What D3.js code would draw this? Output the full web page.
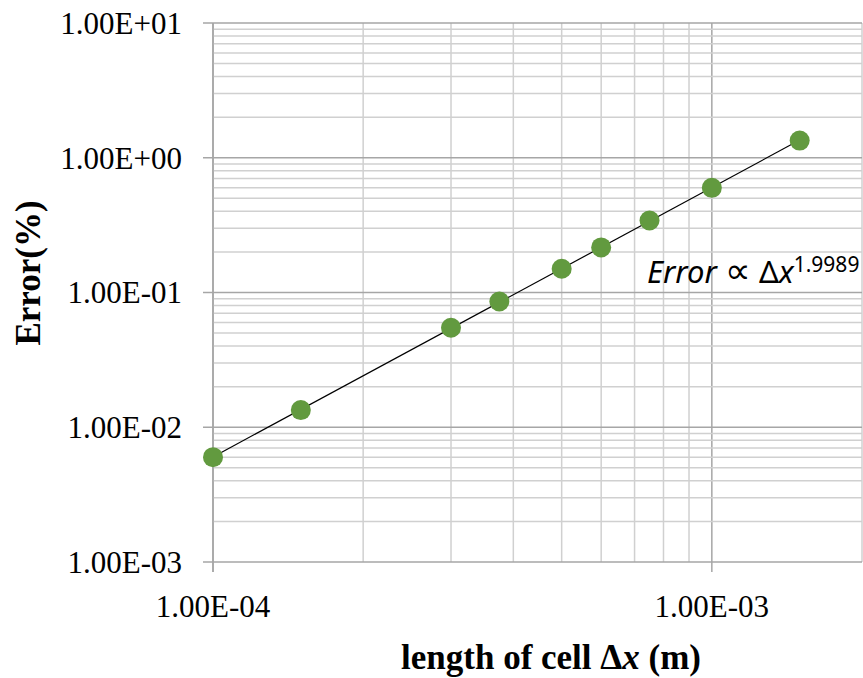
<!DOCTYPE html>
<html>
<head>
<meta charset="utf-8">
<script src="https://cdn.jsdelivr.net/npm/d3@7"></script>
<style>
  body { margin: 0; background: #fff; }
</style>
</head>
<body>
<script>
// cell length (m) and error (%)
const cellLength = [1.0e-4, 1.5e-4, 3.0e-4, 3.75e-4, 5.0e-4, 6.0e-4, 7.5e-4, 1.0e-3, 1.5e-3]
const errorPct   = [0.0060, 0.0134, 0.0548, 0.0858, 0.150, 0.216, 0.342, 0.598, 1.34]
const xTicks = [1e-4, 1e-3]
const yTicks = [1e-3, 1e-2, 1e-1, 1e0, 1e1]
const fitLabel = "1.9989"

const serif = "'Liberation Serif', 'DejaVu Serif', 'Times New Roman', serif"

let w = 863
let h = 678
let m = {left: 213, right: 1, top: 23, bottom: 116}

let svg = d3.select("body").append("svg")
            .attr("width", w)
            .attr("height", h)
            .attr("font-family", serif)

let x = d3.scaleLog().domain([1e-4, 2e-3]).range([m.left, w - m.right])
let y = d3.scaleLog().domain([1e-3, 1e1]).range([h - m.bottom, m.top])

let fmt = d => d3.format(".2e")(d).replace("e", "E").replace(/E([+-])(\d)$/, "E$10$2")

// minor grid
let xMinor = []
for (let d = 1e-4; d < 2e-3 * 1.0001; d *= 10) {
    for (let k = 1; k < 10; k++) if (k * d <= 2e-3 * 1.0001) xMinor.push(k * d)
}
let yMinor = []
for (let d = 1e-3; d < 1e1; d *= 10) {
    for (let k = 2; k < 10; k++) yMinor.push(k * d)
}

let grid = svg.append("g")
grid.selectAll(".vx").data(xMinor).enter().append("line")
    .attr("x1", d => x(d)).attr("x2", d => x(d))
    .attr("y1", m.top).attr("y2", h - m.bottom)
    .attr("stroke", d => xTicks.includes(d) ? "#a6a6a6" : "#d0d0d0")
    .attr("stroke-width", 1.5)
grid.selectAll(".hy").data(yMinor).enter().append("line")
    .attr("x1", m.left).attr("x2", w - m.right)
    .attr("y1", d => y(d)).attr("y2", d => y(d))
    .attr("stroke", "#d0d0d0")
    .attr("stroke-width", 1.5)
grid.selectAll(".hM").data(yTicks).enter().append("line")
    .attr("x1", m.left - 10).attr("x2", w - m.right)
    .attr("y1", d => y(d)).attr("y2", d => y(d))
    .attr("stroke", "#a6a6a6")
    .attr("stroke-width", 1.5)

// axes lines and ticks
svg.append("line")
    .attr("x1", m.left).attr("x2", m.left)
    .attr("y1", m.top).attr("y2", h - m.bottom + 10)
    .attr("stroke", "#a6a6a6").attr("stroke-width", 1.5)
svg.selectAll(".xt").data(xTicks).enter().append("line")
    .attr("x1", d => x(d)).attr("x2", d => x(d))
    .attr("y1", h - m.bottom).attr("y2", h - m.bottom + 10)
    .attr("stroke", "#a6a6a6").attr("stroke-width", 1.5)

// tick labels
svg.selectAll(".yl").data(yTicks).enter().append("text")
    .attr("x", m.left - 31)
    .attr("y", d => y(d))
    .attr("dy", "0.35em")
    .attr("text-anchor", "end")
    .attr("font-size", 31)
    .text(fmt)
svg.selectAll(".xl").data(xTicks).enter().append("text")
    .attr("x", d => x(d))
    .attr("y", h - m.bottom + 55)
    .attr("text-anchor", "middle")
    .attr("font-size", 31)
    .text(fmt)

// axis titles
svg.append("text")
    .attr("transform", "translate(40," + 273 + ") rotate(-90)")
    .attr("text-anchor", "middle")
    .attr("font-size", 35)
    .attr("font-weight", "bold")
    .text("Error(%)")

let xt = svg.append("text")
    .attr("x", 551)
    .attr("y", 669)
    .attr("text-anchor", "middle")
    .attr("font-size", 35)
    .attr("font-weight", "bold")
xt.append("tspan").text("length of cell Δ")
xt.append("tspan").attr("font-style", "italic").text("x")
xt.append("tspan").text(" (m)")

// power trendline fitted in log space
let lx = cellLength.map(Math.log10)
let ly = errorPct.map(Math.log10)
let mx = d3.mean(lx), my = d3.mean(ly)
let slope = d3.sum(lx.map((v, i) => (v - mx) * (ly[i] - my))) / d3.sum(lx.map(v => (v - mx) ** 2))
let icpt = my - slope * mx
let ends = [d3.min(cellLength), d3.max(cellLength)]
svg.append("line")
    .attr("x1", x(ends[0])).attr("y1", y(10 ** (icpt + slope * Math.log10(ends[0]))))
    .attr("x2", x(ends[1])).attr("y2", y(10 ** (icpt + slope * Math.log10(ends[1]))))
    .attr("stroke", "#000").attr("stroke-width", 1.2)

// points
svg.selectAll(".pt").data(cellLength).enter().append("circle")
    .attr("cx", d => x(d))
    .attr("cy", (d, i) => y(errorPct[i]))
    .attr("r", 10)
    .attr("fill", "#629a3f")

// annotation
let ann = svg.append("text")
    .attr("x", 647)
    .attr("y", 283)
    .attr("font-size", 31)
    .attr("font-family", "'Noto Sans', 'Open Sans', sans-serif")
ann.append("tspan").attr("font-style", "italic").text("Error")
ann.append("tspan").text(" ")
ann.append("tspan").attr("font-size", 36).text("∝")
ann.append("tspan").text(" Δ")
ann.append("tspan").attr("font-style", "italic").text("x")
ann.append("tspan").attr("font-size", 21).attr("dy", -11).text(fitLabel)
</script>
</body>
</html>
